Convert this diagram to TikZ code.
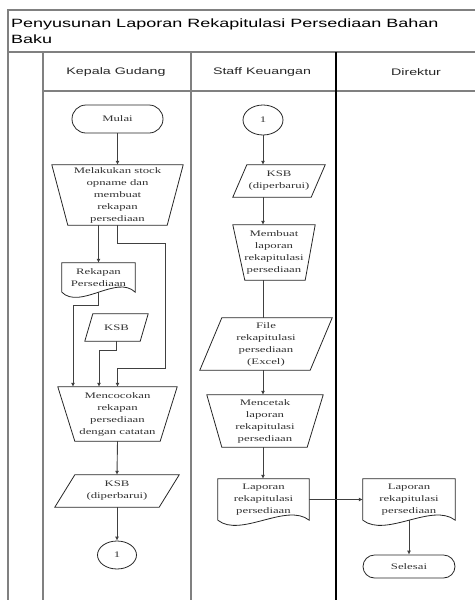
\documentclass[tikz,border=0pt]{standalone}
\usepackage{fontspec}
\setmainfont{Liberation Serif}[FakeStretch=1.5]
\setsansfont{Liberation Sans}[FakeStretch=1.5]
\usetikzlibrary{calc,arrows.meta,shapes.geometric}

\tikzset{
  lane/.style={draw=black!50, line width=1.6pt},
  divider/.style={draw=black, line width=1.8pt},
  box/.style={rectangle, inner sep=0pt, align=center,
    font=\fontsize{8.5}{12}\selectfont, text=black!80},
  outline/.style={draw=black!85, line width=0.8pt},
  flow/.style={draw=black!75, line width=0.9pt},
  arr/.style={flow, -{Latex[length=4pt,width=4pt]}},
  hdr/.style={font=\sffamily\fontsize{9.5}{11}\selectfont, text=black!85},
  ttl/.style={font=\sffamily\fontsize{12}{14}\selectfont, anchor=base west, inner sep=0pt},
  term/.style={box, draw=black!85, line width=0.8pt, rounded corners=11pt},
  conn/.style={ellipse, inner sep=0pt, draw=black!85, line width=0.8pt,
    font=\fontsize{8.5}{12}\selectfont, text=black!80},
}

% manual operation: top edge is the node's top, bottom edge pulled in
\newcommand\trapbox[3]{%
  \draw[outline] (#1.north west) -- (#1.north east)
    -- ($(#1.south east)+(-#3,0)$) -- ($(#1.south west)+(#2,0)$) -- cycle;}
% data: parallelogram leaning right
\newcommand\parabox[2]{%
  \draw[outline] ($(#1.north west)+(#2,0)$) -- (#1.north east)
    -- ($(#1.south east)+(-#2,0)$) -- (#1.south west) -- cycle;}
% document with a wavy lower edge
\newcommand\docbox[1]{%
  \draw[outline] (#1.south west) -- (#1.north west) -- (#1.north east) -- (#1.south east)
    .. controls ($(#1.south east)!0.25!(#1.south west)+(0,-18)$)
    and ($(#1.south east)!0.75!(#1.south west)+(0,18)$) .. (#1.south west);}

\begin{document}
\begin{tikzpicture}[x=1pt, y=-1pt]
\useasboundingbox (0,0) rectangle (475,600);

% ---- swimlane frame ----
\draw[lane] (475,10) -- (8,10) -- (8,600);
\draw[lane] (8,52) -- (475,52);
\draw[lane] (43,91) -- (475,91);
\draw[lane] (43,52) -- (43,600);
\draw[lane] (191,52) -- (191,600);
\draw[divider] (336,52) -- (336,600);

\node[ttl] (title1) at (11,27) {Penyusunan Laporan Rekapitulasi Persediaan Bahan};
\node[ttl] (title2) at (11,43) {Baku};

\node[hdr] (h1) at (116,72) {Kepala Gudang};
\node[hdr] (h2) at (262,72) {Staff Keuangan};
\node[hdr] (h3) at (416,72) {Direktur};

% ---- Kepala Gudang ----
\node[term, minimum width=91pt, minimum height=28pt, rounded corners=14pt] (start) at (117.5,119) {Mulai};
\node[box, minimum width=131pt, minimum height=60pt] (t1) at (117.5,195)
  {Melakukan stock\\opname dan\\membuat\\rekapan\\persediaan};
\trapbox{t1}{16}{16}
\node[box, minimum width=73pt, minimum height=29pt] (d1) at (98.5,277.5)
  {Rekapan\\Persediaan};
\docbox{d1}
\node[box, minimum width=63pt, minimum height=27pt] (p1) at (116.5,327.5) {KSB};
\parabox{p1}{8}
\node[box, minimum width=119pt, minimum height=54pt] (t2) at (117.5,414)
  {Mencocokan\\rekapan\\persediaan\\dengan catatan};
\trapbox{t2}{17}{17}
\node[box, minimum width=124pt, minimum height=32pt] (p2) at (117,491)
  {KSB\\(diperbarui)};
\parabox{p2}{20}
\node[conn, minimum width=39pt, minimum height=28pt] (c1) at (117,555) {1};

\coordinate (r1) at (165,243);
\coordinate (r2) at (165,368);
\coordinate (l1) at (73,305);
\coordinate (l2) at (99,350);

\draw[arr] (start.south) -- (t1.north);
\draw[arr] (t1.south -| d1.north) -- (d1.north);
\draw[arr] (t1.south) |- (r1) -- (r2) -| (t2.north);
\draw[arr] (d1.south) |- (l1) -- (l1 |- t2.north);
\draw[arr] (p1.south) |- (l2) -- (l2 |- t2.north);
\draw[arr] (t2.south) -- (p2.north);
\draw[arr] (p2.south) -- (c1.north);

% ---- Staff Keuangan ----
\node[conn, minimum width=40pt, minimum height=30pt] (c2) at (263,120) {1};
\node[box, minimum width=92pt, minimum height=32pt] (p3) at (279,181)
  {KSB\\(diperbarui)};
\parabox{p3}{14}
\node[box, minimum width=82pt, minimum height=55pt] (t3) at (274,252.5)
  {Membuat\\laporan\\rekapitulasi\\persediaan};
\trapbox{t3}{12}{10}
\node[box, minimum width=132pt, minimum height=52pt] (p4) at (266,344)
  {File\\rekapitulasi\\persediaan\\(Excel)};
\parabox{p4}{22}
\node[box, minimum width=116pt, minimum height=52pt] (t4) at (265,421)
  {Mencetak\\laporan\\rekapitulasi\\persediaan};
\trapbox{t4}{15}{16}
\node[box, minimum width=91pt, minimum height=41pt] (d2) at (263.5,499.5)
  {Laporan\\rekapitulasi\\persediaan};
\docbox{d2}

\draw[arr] (c2.south) -- (c2.south |- p3.north);
\draw[arr] (p3.south -| c2.center) -- (t3.north -| c2.center);
\draw[flow] (t3.south -| c2.center) -- (p4.north -| c2.center);
\draw[arr] (p4.south -| c2.center) -- (t4.north -| c2.center);
\draw[arr] (t4.south -| c2.center) -- (d2.north -| c2.center);

% ---- Direktur ----
\node[box, minimum width=92pt, minimum height=41pt] (d3) at (409,499.5)
  {Laporan\\rekapitulasi\\persediaan};
\docbox{d3}
\node[term, minimum width=92pt, minimum height=23pt, rounded corners=11.5pt] (end) at (409,566.5) {Selesai};

\draw[arr] (d2.east) -- (d3.west);
\draw[arr] (d3.south) -- (end.north);
\end{tikzpicture}
\end{document}
